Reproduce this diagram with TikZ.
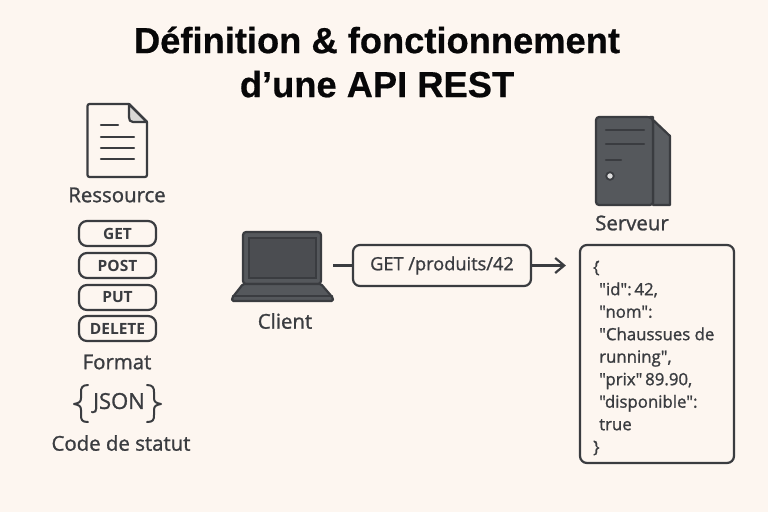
\documentclass[tikz,border=0pt]{standalone}
\usepackage{fontspec}
\setmainfont{Open Sans}
\newfontfamily\medf[FakeBold=1.2]{Open Sans}
\newfontfamily\titlef[FakeBold=0.5]{Liberation Sans Bold}
\usetikzlibrary{arrows.meta}
\definecolor{bgc}{HTML}{FDF6F0}
\definecolor{ink}{HTML}{3A3C40}
\definecolor{fillc}{HTML}{55585C}
\definecolor{sidec}{HTML}{5A5D61}
\definecolor{foldc}{HTML}{D9D8D6}
\definecolor{lightc}{HTML}{DEDEDE}
\tikzset{
  x=1pt,y=-1pt,
  titletext/.style={font=\titlef\fontsize{36.3}{44}\selectfont,text=black!88!ink,align=center,inner sep=0pt},
  labeltext/.style={font=\medf\fontsize{20.4}{24}\selectfont,text=ink,inner sep=0pt},
  pill/.style={draw=ink,line width=2.2pt,rounded corners=8pt,minimum width=77pt,minimum height=25pt,inner sep=0pt,font=\fontsize{15.5}{18}\selectfont\bfseries,text=ink},
  iconline/.style={draw=ink,line width=2.2pt,line cap=round,line join=round},
  conn/.style={draw=ink,line width=2.2pt},
  reqbox/.style={draw=ink,line width=2.2pt,rounded corners=7pt,minimum width=178pt,minimum height=41pt,inner sep=0pt,font=\medf\fontsize{18.2}{22}\selectfont,text=ink},
  respbox/.style={draw=ink,line width=2.2pt,rounded corners=7pt,minimum width=154pt,minimum height=218pt,inner sep=0pt},
  resptext/.style={inner sep=0pt,align=left,font=\medf\fontsize{16.8}{22.5}\selectfont,text=ink}
}
\begin{document}
\begin{tikzpicture}
\useasboundingbox[fill=bgc] (0,0) rectangle (768,512);
% Title
\node[titletext] (title) at (377,62) {Définition \& fonctionnement\\d’une API REST};
% Document icon
\draw[iconline,fill=foldc] (129,104) -- (129,117) .. controls (129,120) and (130,122) .. (133,122) -- (147,122) -- cycle;
\draw[iconline,rounded corners=2pt] (129,104) -- (87.5,104) -- (87.5,177) -- (147,177) -- (147,122);
\draw[iconline] (129,104) -- (147,122);
\draw[iconline] (101,125) -- (118,125) (101,137) -- (134,137) (101,148) -- (134,148) (101,159) -- (134,159);
\node[labeltext] (ressource) at (117,195) {Ressource};
% Verbs
\node[pill] (get) at (117.5,233.5) {GET};
\node[pill] (post) at (117.5,265.5) {POST};
\node[pill] (put) at (117.5,297.5) {PUT};
\node[pill] (delete) at (117.5,328.5) {DELETE};
\node[labeltext] (format) at (117,362) {Format};
% JSON with braces
\node[font=\medf\fontsize{22}{26}\selectfont,text=ink,inner sep=0pt] (json) at (119,403) {JSON};
\draw[iconline,line width=2pt] (88,385) .. controls (82,385) and (81,388) .. (81,392) -- (81,398) .. controls (81,402) and (79,403) .. (74,404) .. controls (79,405) and (81,406) .. (81,410) -- (81,415) .. controls (81,420) and (82,422) .. (88,422);
\draw[iconline,line width=2pt] (147,385) .. controls (153,385) and (154,388) .. (154,392) -- (154,398) .. controls (154,402) and (156,403) .. (161,404) .. controls (156,405) and (154,406) .. (154,410) -- (154,415) .. controls (154,420) and (153,422) .. (147,422);
\node[labeltext] (code) at (121,443) {Code de statut};
% Laptop
\draw[iconline,fill=fillc,rounded corners=3pt] (243,284) -- (243,232) -- (321,232) -- (321,284) -- cycle;
\draw[draw=ink,line width=1.6pt,fill=fillc!88!black] (249,238) rectangle (316,278);
\draw[iconline,fill=fillc,rounded corners=1.5pt] (243,284) -- (321,284) -- (333,298) -- (333,301) -- (232,301) -- (232,298) -- cycle;
\draw[iconline] (233,296) -- (332,296);
\coordinate (laptopout) at (333,265.5);
\node[labeltext] (client) at (285,321) {Client};
% Request
\node[reqbox,yshift=0pt] (req) at (442,265.5) {\raisebox{-1pt}{GET /produits/42}};
% Server
\draw[iconline,fill=sidec] (650,117) -- (670,136) -- (670,205) -- (653,205) -- (653,117) -- cycle;
\draw[iconline,fill=fillc,rounded corners=3pt] (653,205) -- (596,205) -- (596,117) -- (650,117) -- (653,119) -- cycle;
\draw[iconline] (606,130) -- (644,130) (606,144) -- (644,144) (606,160) -- (621,160);
\draw[draw=ink,line width=1.8pt,fill=lightc] (610,176) circle (3.8);
\node[labeltext] (serveur) at (632,223) {Serveur};
% Response
\node[respbox] (resp) at (657,354) {};
\node[resptext,anchor=west] (resptxt) at (599,358) {\hspace*{-6pt}\{\\
"id":\,42,\\
"nom":\\
"Chaussues de\\
running",\\
"prix"\,89.90,\\
"disponible":\\
true\\
\hspace*{-6pt}\}};
% Connectors
\draw[conn] (laptopout) -- (req.west);
\draw[conn,-{Straight Barb[length=9pt,width=15pt,line width=2.2pt]},shorten >=13pt] (req.east) -- (req.east -| resp.west);
\end{tikzpicture}
\end{document}
